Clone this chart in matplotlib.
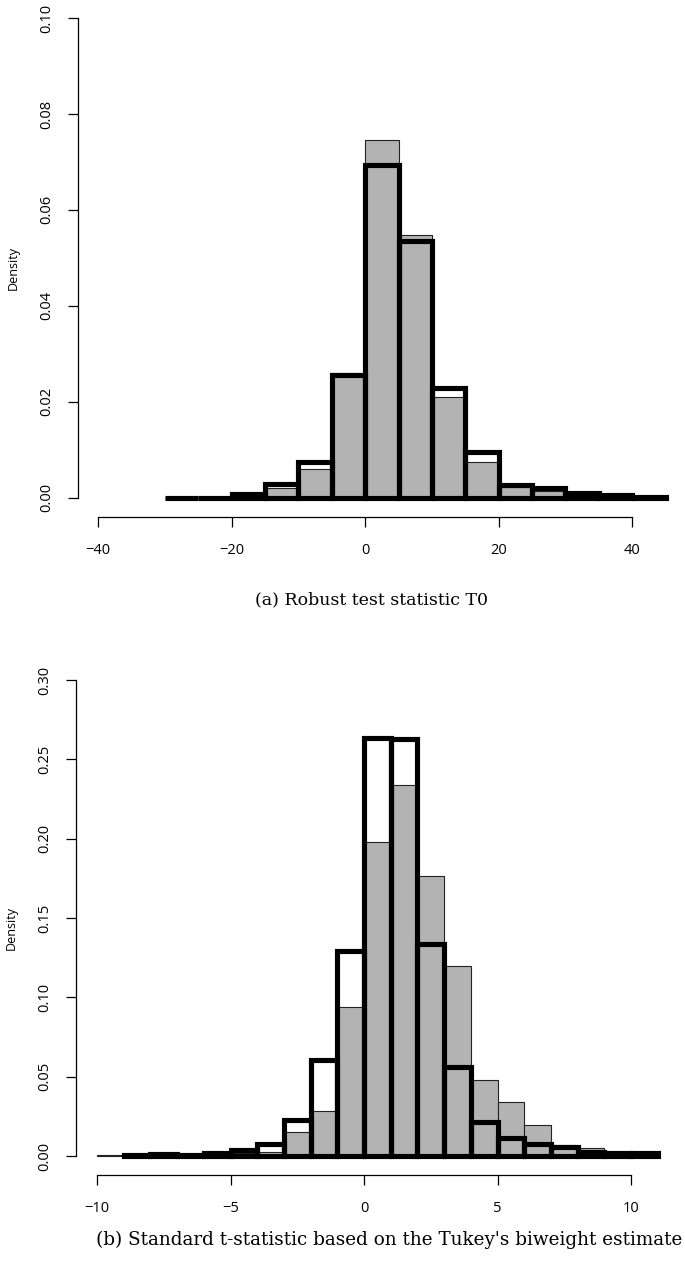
"""Two stacked density histograms, R base-graphics look."""
import numpy as np
import matplotlib
matplotlib.use("Agg")
import matplotlib.pyplot as plt

# --- panel (a): robust test statistic T0, bins of width 5 ---
a_edges = [-30, -25, -20, -15, -10, -5, 0, 5, 10, 15, 20, 25, 30, 35, 40, 45]
a_gray = [0, 0, 0, 0.0021, 0.0060, 0.0260, 0.0745, 0.0548, 0.0210, 0.0075,
          0.0022, 0.0015, 0.0002, 0.0001, 0]
a_black = [0, 0, 0.0007, 0.0028, 0.0075, 0.0255, 0.0693, 0.0535, 0.0228, 0.0095,
           0.0027, 0.0020, 0.0010, 0.0005, 0.0001]

# --- panel (b): t-statistic with Tukey biweight, bins of width 1 ---
b_edges = [-10, -9, -8, -7, -6, -5, -4, -3, -2, -1, 0, 1, 2, 3, 4, 5, 6, 7, 8, 9, 10, 11]
b_gray = [0.0003, 0.0005, 0.0008, 0.0006, 0.0018, 0.0020, 0.0025, 0.0150, 0.0283,
          0.0939, 0.1980, 0.2336, 0.1765, 0.1197, 0.0478, 0.0340, 0.0195, 0.0070,
          0.0050, 0.0020, 0.0010]
b_black = [None, 0.0005, 0.0015, 0.0003, 0.0018, 0.0040, 0.0075, 0.0228, 0.0608,
           0.1294, 0.2637, 0.2630, 0.1335, 0.0561, 0.0213, 0.0113, 0.0078, 0.0055,
           0.0025, 0.0020, 0.0020]

a_xticks = [-40, -20, 0, 20, 40]
a_yticks = [0.00, 0.02, 0.04, 0.06, 0.08, 0.10]
b_xticks = [-10, -5, 0, 5, 10]
b_yticks = [0.00, 0.05, 0.10, 0.15, 0.20, 0.25, 0.30]

a_caption = "(a) Robust test statistic T0"
b_caption = "(b) Standard t-statistic based on the Tukey's biweight estimate"

W, H = 685, 1266
fig = plt.figure(figsize=(W / 100, H / 100), dpi=100)
GRAY = "#b3b3b3"


def px_axes(left, right, top, bottom):
    # figure-pixel box -> axes
    return fig.add_axes([left / W, 1 - bottom / H, (right - left) / W, (bottom - top) / H])


def draw_panel(ax, edges, gray, black, xticks, yticks, xlim, ylim):
    edges = np.asarray(edges, dtype=float)
    left = edges[:-1]
    width = np.diff(edges)
    ax.bar(left, gray, width=width, align="edge", color=GRAY,
           edgecolor="#222222", linewidth=0.8, zorder=2)
    keep = [i for i, v in enumerate(black) if v is not None]
    ax.bar(left[keep], [black[i] for i in keep], width=width[keep], align="edge",
           fill=False, edgecolor="black", linewidth=3.7, zorder=3, clip_on=False)
    ax.set_xlim(*xlim)
    ax.set_ylim(*ylim)
    for s in ("top", "right"):
        ax.spines[s].set_visible(False)
    ax.spines["left"].set_bounds(yticks[0], yticks[-1])
    ax.spines["bottom"].set_bounds(xticks[0], xticks[-1])
    for s in ("left", "bottom"):
        ax.spines[s].set_linewidth(0.9)
    ax.set_xticks(xticks)
    ax.set_yticks(yticks)
    ax.set_xticklabels([f"{t:g}".replace("-", "\u2212") for t in xticks],
                       fontfamily="Open Sans", fontsize=10.5)
    ax.set_yticklabels([f"{t:.2f}" for t in yticks], rotation=90, va="center",
                       fontfamily="Open Sans", fontsize=10.5)
    ax.tick_params(axis="x", length=7, width=0.9, pad=12)
    ax.tick_params(axis="y", length=7, width=0.9, pad=10)
    ax.set_ylabel("Density", fontfamily="Open Sans", fontsize=9, labelpad=14)
    ax.patch.set_visible(False)


ax1 = px_axes(78, 685, 18, 517)
draw_panel(ax1, a_edges, a_gray, a_black, a_xticks, a_yticks,
           (-43.0, 47.9), (-0.004, 0.10))

ax2 = px_axes(76, 685, 680, 1175)
draw_panel(ax2, b_edges, b_gray, b_black, b_xticks, b_yticks,
           (-10.79, 12.02), (-0.012, 0.30))

fig.text(371 / W, 1 - 600 / H, a_caption, ha="center", va="center",
         fontfamily="DejaVu Serif", fontsize=12.5)
fig.text(389 / W, 1 - 1240 / H, b_caption, ha="center", va="center",
         fontfamily="DejaVu Serif", fontsize=13.2)

fig.savefig("out.png", dpi=100)
